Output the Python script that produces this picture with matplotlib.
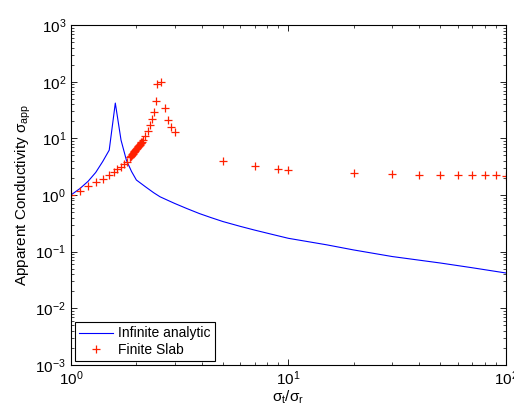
import numpy as np
import matplotlib
matplotlib.use('Agg')
import matplotlib.pyplot as plt
from matplotlib.ticker import LogLocator, NullFormatter

plt.rcParams['font.family'] = ['Liberation Sans', 'DejaVu Sans']
plt.rcParams['mathtext.fontset'] = 'custom'
plt.rcParams['mathtext.rm'] = 'Liberation Sans'
plt.rcParams['mathtext.it'] = 'Liberation Sans:italic'
plt.rcParams['mathtext.bf'] = 'Liberation Sans:bold'

# infinite analytic solution
ratio_analytic = [1.0, 1.1, 1.2, 1.3, 1.4, 1.5, 1.6, 1.7, 1.8, 1.9, 2.0, 2.2, 2.4, 2.57,
                  2.8, 3.0, 3.4, 3.9, 4.4, 5.0, 6.0, 7.0, 8.5, 10.0, 15.0, 20.0,
                  30.0, 50.0, 70.0, 100.0]
sigma_analytic = [1.0, 1.3, 1.75, 2.5, 3.9, 6.2, 42.0, 9.3, 4.1, 2.6, 1.84, 1.4, 1.1, 0.93,
                  0.8, 0.71, 0.58, 0.47, 0.4, 0.34, 0.28, 0.24, 0.2, 0.172, 0.132, 0.107,
                  0.082, 0.063, 0.052, 0.042]

# finite slab simulation
ratio_slab = [1.0, 1.1, 1.2, 1.3, 1.4, 1.5, 1.57, 1.63, 1.7, 1.76, 1.82,
              1.86, 1.87, 1.88, 1.89, 1.90, 1.91, 1.92, 1.93, 1.94, 1.95, 1.96,
              1.97, 1.98, 1.99, 2.00, 2.01, 2.02, 2.03, 2.04, 2.05, 2.06, 2.07,
              2.08, 2.09, 2.10, 2.11, 2.12,
              2.15, 2.2, 2.25, 2.3, 2.35, 2.4, 2.45, 2.5, 2.6, 2.7, 2.8, 2.9, 3.0,
              5, 7, 9, 10, 20, 30, 40, 50, 60, 70, 80, 90, 100]
sigma_slab = [1.0, 1.19, 1.44, 1.67, 1.9, 2.3, 2.55, 2.84, 3.16, 3.47, 3.9,
              4.6, 4.72, 4.85, 4.97, 5.1, 5.24, 5.37, 5.51, 5.65, 5.8, 5.95,
              6.1, 6.25, 6.4, 6.55, 6.7, 6.88, 7.05, 7.22, 7.4, 7.58, 7.77,
              7.96, 8.15, 8.35, 8.55, 8.75,
              9.3, 11.0, 13.6, 17.2, 21.6, 29.5, 46.0, 93.0, 97.0, 34.0, 21.0, 15.6, 12.7,
              4.03, 3.25, 2.87, 2.79, 2.44, 2.35, 2.28, 2.25, 2.25, 2.23, 2.23, 2.23, 2.16]

fig = plt.figure(figsize=(5.14, 4.05), dpi=100)
ax = fig.add_axes([0.138, 0.099, 0.846, 0.839])

ax.loglog(ratio_analytic, sigma_analytic, color='#0000ff', lw=0.8, label='Infinite analytic')
ax.loglog(ratio_slab, sigma_slab, '+', color='#ff2000', ms=5.5, mew=0.9, label='Finite Slab')

ax.set_xlim(1, 100)
ax.set_ylim(1e-3, 1e3)
ax.yaxis.set_major_locator(LogLocator(base=10, numticks=10))
ax.yaxis.set_minor_locator(LogLocator(base=10, subs=np.arange(2, 10), numticks=20))
ax.yaxis.set_minor_formatter(NullFormatter())
ax.xaxis.set_minor_formatter(NullFormatter())
ax.tick_params(which='both', direction='in', top=True, right=True, labelsize=11)
ax.tick_params(which='major', length=4, width=0.6)
ax.tick_params(which='minor', length=2, width=0.5)
for s in ax.spines.values():
    s.set_linewidth(0.8)

ax.set_xlabel(r'σ$_{\rm t}$/σ$_{\rm r}$', fontsize=11, labelpad=0)
ax.set_ylabel(r'Apparent Conductivity σ$_{\rm app}$', fontsize=11, labelpad=2)

leg = ax.legend(loc='lower left', fontsize=10, fancybox=False, framealpha=1,
                edgecolor='black', borderpad=0.3, handlelength=2.4,
                labelspacing=0.15, handletextpad=0.4, borderaxespad=0.3)
leg.get_frame().set_linewidth(0.8)

fig.savefig('out.png', dpi=100)
